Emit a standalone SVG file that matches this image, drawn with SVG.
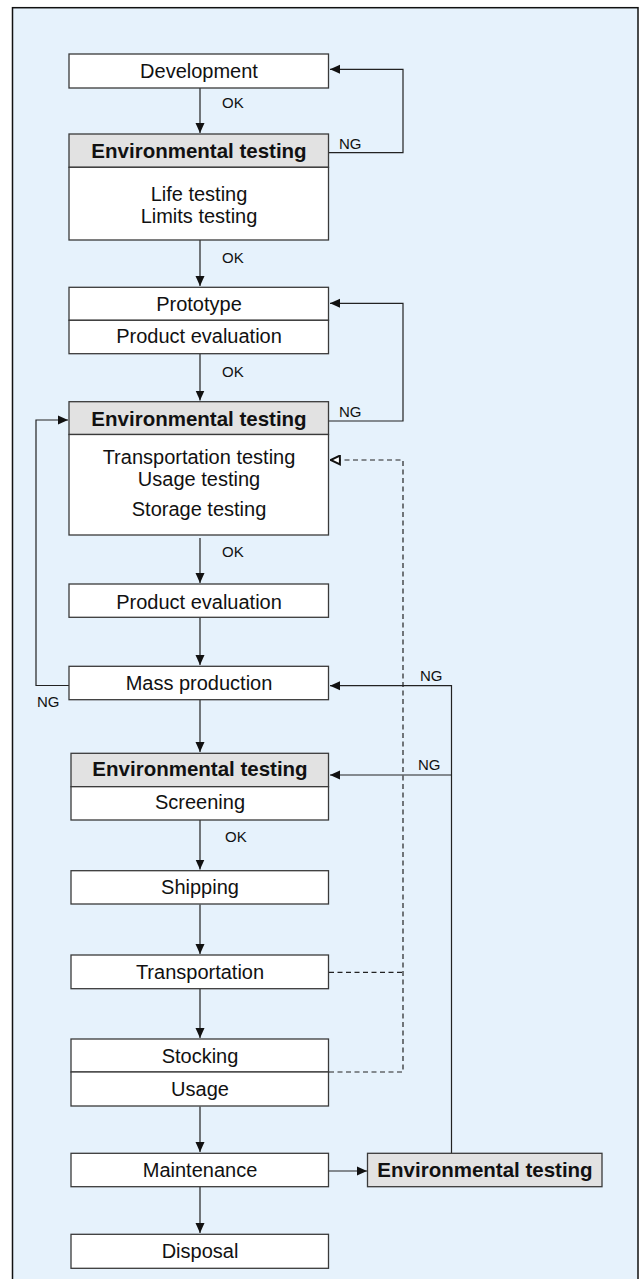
<svg xmlns="http://www.w3.org/2000/svg" width="642" height="1279" viewBox="0 0 642 1279">
<defs>
<style>
.frame{fill:#E6F2FC;stroke:#111;stroke-width:1.5}
.box{fill:#fff;stroke:#3a3a3a;stroke-width:1.3}
.hdr{fill:#E2E2E2;stroke:#3a3a3a;stroke-width:1.3}
.t{font-family:"Liberation Sans",Arial,sans-serif;font-size:20px;fill:#111;text-anchor:middle}
.b{font-weight:bold;font-size:20.5px}
.lbl{font-family:"Liberation Sans",Arial,sans-serif;font-size:15px;fill:#111}
.ln{fill:none;stroke:#222;stroke-width:1.2}
.dash{fill:none;stroke:#222;stroke-width:1.2;stroke-dasharray:5,3.5}
</style>
<marker id="ah" viewBox="0 0 10 10" refX="10" refY="5" markerWidth="10" markerHeight="10" markerUnits="userSpaceOnUse" orient="auto">
<path d="M0,0.5 L10,5 L0,9.5 Z" fill="#111"/>
</marker>
<marker id="oh" viewBox="0 0 10 10" refX="10" refY="5" markerWidth="11" markerHeight="11" markerUnits="userSpaceOnUse" orient="auto">
<path d="M1,1 L9.5,5 L1,9 Z" fill="#fff" stroke="#111" stroke-width="1.8"/>
</marker>
</defs>
<rect class="frame" x="12.5" y="7.7" width="625.5" height="1290"/>

<g id="connectors">
<line class="ln" x1="200" y1="88" x2="200" y2="133" marker-end="url(#ah)"/>
<polyline class="ln" points="329,152.7 403,152.7 403,69.3 330,69.3" marker-end="url(#ah)"/>
<line class="ln" x1="200" y1="240" x2="200" y2="286" marker-end="url(#ah)"/>
<line class="ln" x1="200" y1="354" x2="200" y2="400.5" marker-end="url(#ah)"/>
<polyline class="ln" points="329,421 403,421 403,303.3 330,303.3" marker-end="url(#ah)"/>
<polyline class="dash" points="329,972.3 403,972.3"/>
<polyline class="dash" points="329,1072 403,1072 403,460 330,460" marker-end="url(#oh)"/>
<line class="ln" x1="200" y1="538" x2="200" y2="583" marker-end="url(#ah)"/>
<line class="ln" x1="200" y1="617.5" x2="200" y2="665" marker-end="url(#ah)"/>
<polyline class="ln" points="69,685.5 36,685.5 36,420 68,420" marker-end="url(#ah)"/>
<line class="ln" x1="200" y1="700" x2="200" y2="752" marker-end="url(#ah)"/>
<polyline class="ln" points="451.5,1153 451.5,685.7 330,685.7" marker-end="url(#ah)"/>
<line class="ln" x1="451.5" y1="775" x2="330" y2="775" marker-end="url(#ah)"/>
<line class="ln" x1="200" y1="820" x2="200" y2="869.5" marker-end="url(#ah)"/>
<line class="ln" x1="200" y1="904.5" x2="200" y2="954" marker-end="url(#ah)"/>
<line class="ln" x1="200" y1="989" x2="200" y2="1038" marker-end="url(#ah)"/>
<line class="ln" x1="200" y1="1106.5" x2="200" y2="1152" marker-end="url(#ah)"/>
<line class="ln" x1="329" y1="1171" x2="367" y2="1171" marker-end="url(#ah)"/>
<line class="ln" x1="200" y1="1187" x2="200" y2="1233" marker-end="url(#ah)"/>
<text class="lbl" x="222" y="108">OK</text>
<text class="lbl" x="339" y="149">NG</text>
<text class="lbl" x="222" y="263">OK</text>
<text class="lbl" x="222" y="377">OK</text>
<text class="lbl" x="339" y="417">NG</text>
<text class="lbl" x="222" y="557">OK</text>
<text class="lbl" x="420" y="681">NG</text>
<text class="lbl" x="37" y="707">NG</text>
<text class="lbl" x="418" y="770">NG</text>
<text class="lbl" x="225" y="842">OK</text>
</g>

<g id="development">
<rect class="box" x="69" y="54" width="259.5" height="34"/>
<text class="t" x="199" y="78">Development</text>
</g>
<g id="env-testing-1">
<rect class="hdr" x="69" y="134" width="259.5" height="33.3"/>
<rect class="box" x="69" y="167.3" width="259.5" height="72.7"/>
<text class="t b" x="199" y="158">Environmental testing</text>
<text class="t" x="199" y="201">Life testing</text>
<text class="t" x="199" y="223">Limits testing</text>
</g>
<g id="prototype">
<rect class="box" x="69" y="287.3" width="259.5" height="33"/>
<rect class="box" x="69" y="320.3" width="259.5" height="33.4"/>
<text class="t" x="199" y="311">Prototype</text>
<text class="t" x="199" y="343">Product evaluation</text>
</g>
<g id="env-testing-2">
<rect class="hdr" x="69" y="401.7" width="259.5" height="32.8"/>
<rect class="box" x="69" y="434.5" width="259.5" height="100.5"/>
<text class="t b" x="199" y="426">Environmental testing</text>
<text class="t" x="199" y="464">Transportation testing</text>
<text class="t" x="199" y="486">Usage testing</text>
<text class="t" x="199" y="516">Storage testing</text>
</g>
<g id="product-evaluation">
<rect class="box" x="69" y="584" width="259.5" height="33.3"/>
<text class="t" x="199" y="609">Product evaluation</text>
</g>
<g id="mass-production">
<rect class="box" x="69" y="666.3" width="259.5" height="33.4"/>
<text class="t" x="199" y="690">Mass production</text>
</g>
<g id="env-testing-3">
<rect class="hdr" x="71" y="753.3" width="257.5" height="33.4"/>
<rect class="box" x="71" y="786.7" width="257.5" height="33.3"/>
<text class="t b" x="200" y="776">Environmental testing</text>
<text class="t" x="200" y="809">Screening</text>
</g>
<g id="shipping">
<rect class="box" x="71" y="870.7" width="257.5" height="33.3"/>
<text class="t" x="200" y="894">Shipping</text>
</g>
<g id="transportation">
<rect class="box" x="71" y="955" width="257.5" height="33.7"/>
<text class="t" x="200" y="979">Transportation</text>
</g>
<g id="stocking-usage">
<rect class="box" x="71" y="1039" width="257.5" height="33"/>
<rect class="box" x="71" y="1072" width="257.5" height="34"/>
<text class="t" x="200" y="1063">Stocking</text>
<text class="t" x="200" y="1096">Usage</text>
</g>
<g id="maintenance">
<rect class="box" x="71" y="1153.3" width="257.5" height="33.4"/>
<text class="t" x="200" y="1177">Maintenance</text>
</g>
<g id="env-testing-4">
<rect class="hdr" x="367.5" y="1153.3" width="234.5" height="33.4"/>
<text class="t b" x="485" y="1177">Environmental testing</text>
</g>
<g id="disposal">
<rect class="box" x="71" y="1234.3" width="257.5" height="34"/>
<text class="t" x="200" y="1258">Disposal</text>
</g>
</svg>
